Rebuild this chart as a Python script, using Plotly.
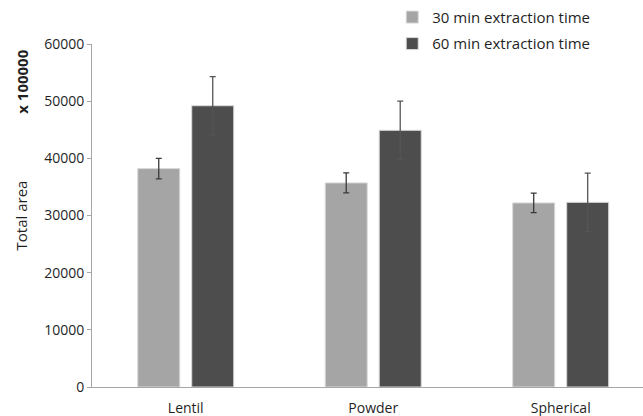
import plotly.graph_objects as go

categories = ["Lentil", "Powder", "Spherical"]
series_names = ["30 min extraction time", "60 min extraction time"]
values_30 = [38200, 35700, 32200]
errors_30 = [1800, 1750, 1700]
values_60 = [49200, 44900, 32300]
errors_60 = [5100, 5100, 5100]
y_ticks = [0, 10000, 20000, 30000, 40000, 50000, 60000]

FONT = "Open Sans"
TXT = "#1f1f1f"

fig = go.Figure()
fig.add_trace(go.Bar(
    x=categories, y=values_30, name=series_names[0], legendgroup="a",
    marker=dict(color="#A5A5A5", line=dict(color="#D9D9D9", width=1)),
    error_y=dict(type="data", array=errors_30, color="#3a3a3a", thickness=1.3, width=3),
))
fig.add_trace(go.Bar(
    x=categories, y=values_60, name=series_names[1], legendgroup="b",
    marker=dict(color="#4D4D4D", line=dict(color="#D9D9D9", width=1)),
    error_y=dict(type="data", array=errors_60, color="#555555", thickness=1.3, width=3),
))

fig.update_layout(
    width=643, height=416,
    margin=dict(l=92, r=0, t=44, b=29, autoexpand=False),
    paper_bgcolor="white", plot_bgcolor="white",
    barmode="group", bargap=0.424, bargroupgap=0.222,
    font=dict(family=FONT, size=14, color=TXT),
    showlegend=True,
    legend=dict(xref="container", yref="container", x=0.610, y=0.998,
                xanchor="left", yanchor="top",
                font=dict(family=FONT, size=15, color=TXT),
                traceorder="grouped", tracegroupgap=4,
                bgcolor="rgba(0,0,0,0)", itemwidth=30),
    xaxis=dict(range=[-0.5, 2.439], showline=True, linecolor="#A6A6A6", linewidth=1,
               ticks="", showgrid=False, ticklabelstandoff=8,
               tickfont=dict(family=FONT, size=14, color=TXT)),
    yaxis=dict(range=[0, 60000], tickvals=y_ticks, ticktext=[str(v) for v in y_ticks],
               showline=True, linecolor="#A6A6A6", linewidth=1, ticks="outside",
               ticklen=4, tickcolor="#A6A6A6", showgrid=False, zeroline=False,
               tickfont=dict(family=FONT, size=14, color=TXT),
               title=dict(text="Total area", standoff=12,
                          font=dict(family=FONT, size=15, color=TXT))),
    annotations=[dict(text="<b>x 100000</b>", textangle=-90, xref="paper", yref="paper",
                      x=-0.127, y=0.89, xanchor="center", yanchor="middle", showarrow=False,
                      font=dict(family=FONT, size=15, color=TXT))],
)

fig.write_html("out.html", config={"displayModeBar": False},
               post_script="document.body.style.margin='0';document.body.style.overflow='hidden';")
